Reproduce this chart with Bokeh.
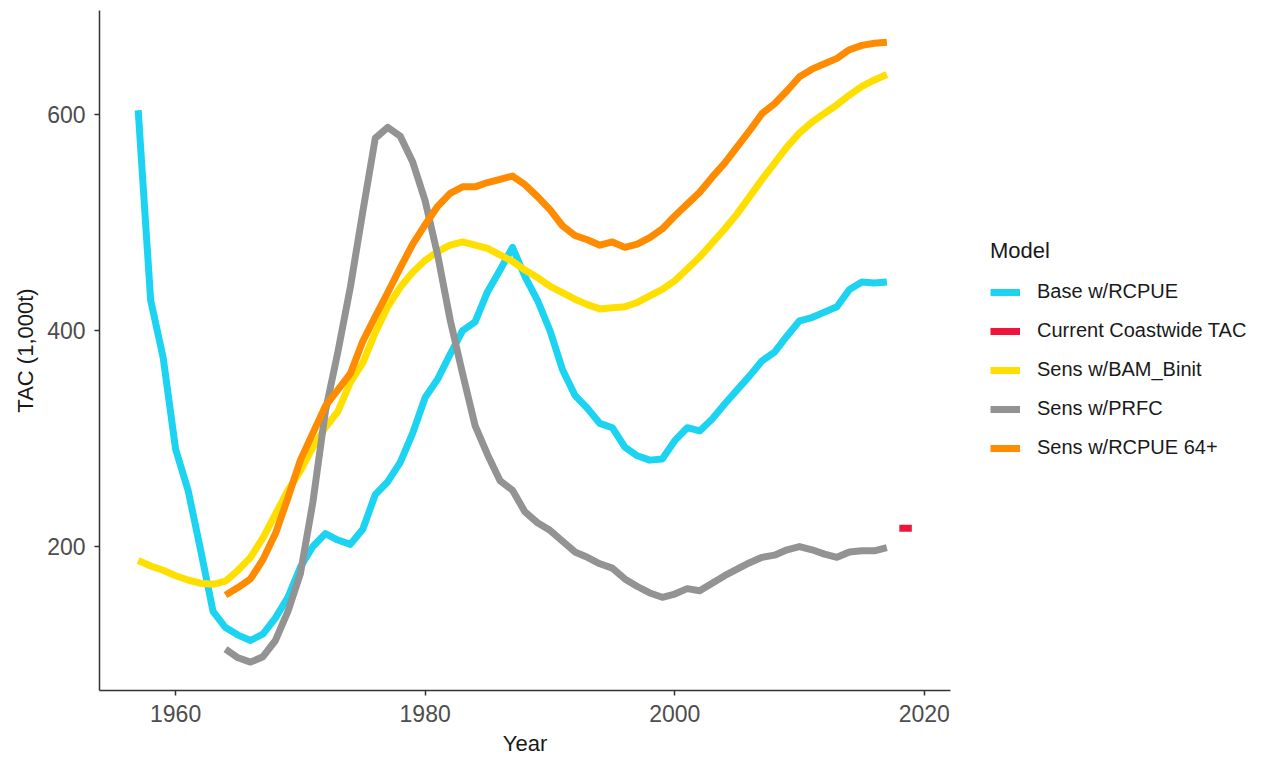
from bokeh.plotting import figure
from bokeh.layouts import row
from bokeh.models import Range1d, FixedTicker, Legend, LegendItem
from bokeh.embed import file_html
from bokeh.resources import INLINE

# ---------------- data ----------------
base_years = list(range(1957, 2018))
base_vals = [604, 428, 375, 290, 252, 197, 140, 125, 118, 113, 119, 134, 153, 181,
             200, 212, 206, 202, 216, 248, 260, 278, 305, 338, 355, 378, 400, 408,
             436, 456, 477, 450, 428, 400, 364, 340, 328, 314, 310, 292, 284, 280,
             281, 298, 310, 307, 318, 332, 345, 358, 372, 380, 395, 409, 412, 417,
             422, 438, 445, 444, 445]

tac_years = [2018, 2019]
tac_vals = [217, 217]

bam_years = list(range(1957, 2018))
bam_vals = [187, 182, 178, 173, 169, 166, 165, 168, 178, 190, 208, 230, 252, 270,
            292, 310, 325, 352, 370, 398, 422, 440, 454, 465, 473, 479, 482, 479,
            476, 470, 464, 456, 449, 441, 435, 429, 424, 420, 421, 422, 426, 432,
            438, 446, 457, 468, 481, 494, 508, 524, 540, 555, 570, 583, 593, 601,
            609, 618, 626, 632, 637]

prfc_years = list(range(1964, 2018))
prfc_vals = [105, 97, 93, 98, 113, 140, 175, 241, 325, 380, 440, 510, 578, 588,
             580, 556, 520, 470, 410, 360, 312, 285, 261, 252, 232, 222, 215, 205,
             195, 190, 184, 180, 170, 163, 157, 153, 156, 161, 159, 166, 173, 179,
             185, 190, 192, 197, 200, 197, 193, 190, 195, 196, 196, 199]

r64_years = list(range(1964, 2018))
r64_vals = [155, 162, 170, 188, 212, 245, 280, 305, 330, 345, 360, 390, 413, 435,
            458, 480, 498, 515, 527, 533, 533, 537, 540, 543, 535, 524, 512, 497,
            488, 484, 479, 482, 477, 480, 486, 494, 506, 517, 528, 542, 555, 570,
            585, 601, 610, 622, 635, 642, 647, 652, 660, 664, 666, 667]

labels = ["Base w/RCPUE", "Current Coastwide TAC", "Sens w/BAM_Binit",
          "Sens w/PRFC", "Sens w/RCPUE 64+"]
colors = ["#1DD3F2", "#F0143C", "#FFDF00", "#939393", "#FF8C00"]

x_ticks = [1960, 1980, 2000, 2020]
y_ticks = [200, 400, 600]

# ---------------- main figure ----------------
FONT = "Liberation Sans"
H = 758
p = figure(width=960, height=H, output_backend="svg", toolbar_location=None,
           x_range=Range1d(1953.9, 2022.1), y_range=Range1d(66.7, 696.3),
           min_border_left=99, min_border_right=10, min_border_top=10,
           min_border_bottom=68)
p.outline_line_color = None
p.xgrid.visible = False
p.ygrid.visible = False

series = [(base_years, base_vals), (tac_years, tac_vals), (bam_years, bam_vals),
          (prfc_years, prfc_vals), (r64_years, r64_vals)]
for (xs, ys), c in zip(series, colors):
    p.line(xs, ys, line_color=c, line_width=7, line_join="round", line_cap="butt")

for ax in (p.xaxis[0], p.yaxis[0]):
    ax.axis_line_color = "#333333"
    ax.axis_line_width = 1.5
    ax.major_tick_line_color = "#333333"
    ax.major_tick_line_width = 1.5
    ax.major_tick_out = 5
    ax.major_tick_in = 0
    ax.minor_tick_line_color = None
    ax.major_label_text_font = FONT
    ax.major_label_text_font_size = "23px"
    ax.major_label_text_color = "#4D4D4D"
    ax.axis_label_text_font = FONT
    ax.axis_label_text_font_size = "22px"
    ax.axis_label_text_font_style = "normal"
    ax.axis_label_text_color = "#1A1A1A"

p.xaxis[0].ticker = FixedTicker(ticks=x_ticks)
p.yaxis[0].ticker = FixedTicker(ticks=y_ticks)
p.xaxis[0].axis_label = "Year"
p.yaxis[0].axis_label = "TAC (1,000t)"
p.xaxis[0].major_label_standoff = 9
p.yaxis[0].major_label_standoff = 9
p.xaxis[0].axis_label_standoff = 6
p.yaxis[0].axis_label_standoff = 6

# ---------------- legend panel ----------------
lg = figure(width=296, height=H, output_backend="svg", toolbar_location=None,
            x_range=Range1d(0, 1), y_range=Range1d(0, 1),
            x_axis_location=None, y_axis_location=None,
            min_border=0)
lg.outline_line_color = None
lg.xgrid.visible = False
lg.ygrid.visible = False
dummies = [lg.line([-5, -4], [-5, -4], line_color=c, line_width=7, line_cap="butt")
           for c in colors]
items = [LegendItem(label=l, renderers=[r]) for l, r in zip(labels, dummies)]
legend = Legend(items=items, title="Model", location=(30, 231),
                title_text_font=FONT, title_text_font_size="22px",
                title_text_color="#1A1A1A", title_text_font_style="normal",
                title_standoff=16,
                label_text_font=FONT, label_text_font_size="20px",
                label_text_color="#1A1A1A",
                glyph_width=30, glyph_height=22, label_height=22,
                label_standoff=17, spacing=16, padding=0, margin=0,
                border_line_color=None, background_fill_alpha=0)
lg.add_layout(legend, "center")

layout = row(p, lg)
open("out.html", "w").write(file_html(layout, INLINE))
